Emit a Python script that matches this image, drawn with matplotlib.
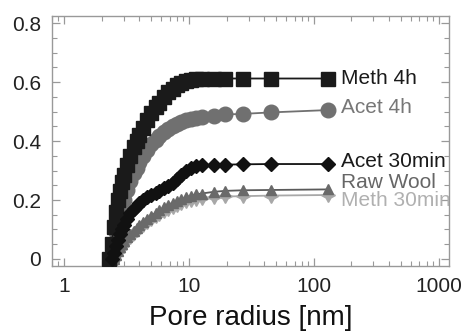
import numpy as np
import matplotlib
matplotlib.use("Agg")
import matplotlib.pyplot as plt
from matplotlib.ticker import FixedLocator, FixedFormatter, LogLocator, NullFormatter

plt.rcParams['font.family'] = ['Liberation Sans', 'DejaVu Sans']

nan = np.nan

# pore radius grid [nm]
radius = [2.3, 2.4, 2.5, 2.6, 2.7, 2.8, 2.9, 3.0, 3.2, 3.4, 3.6, 3.8, 4.0, 4.3, 4.6,
          5.0, 5.4, 5.8, 6.3, 6.8, 7.4, 8.0, 8.7, 9.5, 10.4, 11.4, 12.6, 16, 19.5,
          27, 45, 130]

meth_4h = [0.0, 0.05, 0.11, 0.16, 0.2, 0.23, 0.26, 0.285, 0.32, 0.35, 0.38, 0.40, 0.42,
           0.445, 0.47, 0.495, 0.515, 0.53, 0.55, 0.565, 0.578, 0.59, 0.598, 0.604,
           0.608, 0.61, 0.611, 0.612, 0.612, 0.612, 0.612, 0.612]
acet_4h = [nan, 0.0, 0.05, 0.09, 0.12, 0.15, 0.175, 0.2, 0.235, 0.265, 0.29, 0.31, 0.33,
           0.35, 0.37, 0.39, 0.405, 0.418, 0.43, 0.44, 0.45, 0.458, 0.465, 0.47, 0.475,
           0.478, 0.481, 0.486, 0.49, 0.492, 0.497, 0.505]
acet_30min = [nan, 0.0, 0.02, 0.045, 0.065, 0.085, 0.1, 0.115, 0.135, 0.155, 0.17, 0.18,
              0.19, 0.2, 0.21, 0.218, 0.225, 0.232, 0.24, 0.248, 0.258, 0.27, 0.285,
              0.298, 0.308, 0.315, 0.318, 0.32, 0.32, 0.321, 0.322, 0.322]
raw_wool = [nan, nan, 0.0, 0.015, 0.028, 0.04, 0.05, 0.06, 0.073, 0.085, 0.096, 0.106,
            0.115, 0.126, 0.136, 0.147, 0.157, 0.166, 0.175, 0.183, 0.191, 0.198, 0.204,
            0.21, 0.215, 0.219, 0.222, 0.228, 0.231, 0.233, 0.234, 0.236]
meth_30min = [nan, nan, 0.0, 0.012, 0.024, 0.035, 0.044, 0.053, 0.066, 0.078, 0.088,
              0.097, 0.105, 0.115, 0.125, 0.135, 0.145, 0.153, 0.162, 0.17, 0.177, 0.184,
              0.19, 0.195, 0.199, 0.203, 0.206, 0.21, 0.212, 0.213, 0.215, 0.217]

labels = ["Meth 4h", "Acet 4h", "Acet 30min", "Raw Wool", "Meth 30min"]
label_y = [0.613, 0.512, 0.332, 0.26, 0.198]
label_colors = ["#1a1a1a", "#777777", "#1a1a1a", "#666666", "#b0b0b0"]

y_ticks = [0, 0.2, 0.4, 0.6, 0.8]
y_ticklabels = ["0", "0.2", "0.4", "0.6", "0.8"]
x_ticks = [1, 10, 100, 1000]
x_ticklabels = ["1", "10", "100", "1000"]

fig = plt.figure(figsize=(4.62, 3.33), dpi=100)
ax = fig.add_axes([0.1126, 0.201, 0.8594, 0.751])

star4 = (4, 1, 0)
ax.plot(radius, meth_30min, color="#a8a8a8", marker=star4, ms=10, lw=1.3, zorder=2)
ax.plot(radius, raw_wool, color="#5a5a5a", marker="^", mfc="#6a6a6a", mec="#6a6a6a",
        ms=7, lw=1.3, zorder=3)
ax.plot(radius, acet_4h, color="#707070", marker="o", ms=10.5, lw=1.3, zorder=4)
ax.plot(radius, meth_4h, color="#1a1a1a", marker="s", ms=9.5, lw=1.3, zorder=5)
ax.plot(radius, acet_30min, color="#111111", marker="D", ms=7.5, lw=1.3, zorder=6)

for lab, ly, lc in zip(labels, label_y, label_colors):
    ax.text(165, ly, lab, color=lc, fontsize=15, va="center", ha="left", clip_on=True)

ax.set_xscale("log")
ax.set_xlim(0.8, 1210)
ax.set_ylim(-0.024, 0.824)

ax.xaxis.set_major_locator(FixedLocator(x_ticks))
ax.xaxis.set_major_formatter(FixedFormatter(x_ticklabels))
ax.xaxis.set_minor_locator(LogLocator(base=10, subs=np.arange(2, 10)))
ax.xaxis.set_minor_formatter(NullFormatter())
ax.yaxis.set_major_locator(FixedLocator(y_ticks))
ax.yaxis.set_major_formatter(FixedFormatter(y_ticklabels))
ax.yaxis.set_minor_locator(FixedLocator([0.05, 0.1, 0.15, 0.25, 0.3, 0.35, 0.45, 0.5,
                                         0.55, 0.65, 0.7, 0.75]))

ax.tick_params(which="both", direction="in", top=True, right=True, color="#999999",
               labelsize=15, labelcolor="#222222")
ax.tick_params(which="major", length=6, width=0.9, pad=8)
ax.tick_params(which="minor", length=3.5, width=0.8)
for sp in ax.spines.values():
    sp.set_color("#999999")
    sp.set_linewidth(1.0)

ax.set_xlabel("Pore radius [nm]", fontsize=20, color="#111111", labelpad=6)

fig.savefig("out.png", dpi=100)
